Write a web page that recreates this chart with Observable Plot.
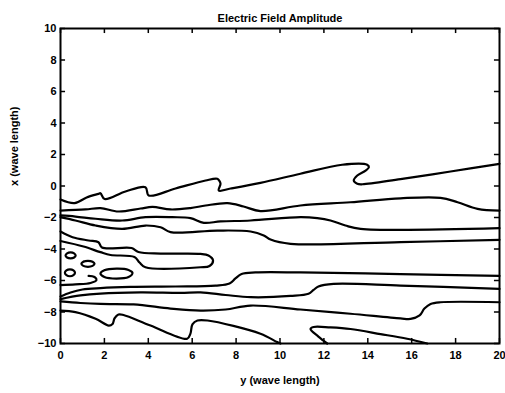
<!DOCTYPE html>
<html>
<head>
<meta charset="utf-8">
<script src="https://cdn.jsdelivr.net/npm/d3@7"></script>
<script src="https://cdn.jsdelivr.net/npm/@observablehq/plot@0.6"></script>
<style>
  html, body { margin: 0; padding: 0; background: #fff; }
</style>
</head>
<body>
<div id="chart"></div>
<script>
const title = "Electric Field Amplitude";
const xLabel = "y (wave length)";
const yLabel = "x (wave length)";
const xTicks = [0, 2, 4, 6, 8, 10, 12, 14, 16, 18, 20];
const yTicks = [-10, -8, -6, -4, -2, 0, 2, 4, 6, 8, 10];

// open contour lines, [y (wave length), x (wave length)]
const contourA = [[0,-0.86],[0.64,-1.09],[1.19,-0.73],[1.73,-0.50],[1.82,-0.46],[2.01,-0.83],[2.96,-0.35],[3.87,-0.08],[4.02,-0.60],[5.24,-0.16],[6.61,0.35],[7.14,0.46],[7.24,0.32],[7.29,0.14],[7.21,-0.29],[7.75,-0.16],[9.11,0.20],[10.93,0.78],[12.83,1.35],[13.97,1.35],[14.05,1.19],[13.90,0.98],[13.52,0.67],[13.36,0.35],[13.52,0.14],[13.76,0.11],[15.49,0.44],[17.77,0.92],[20,1.41]];
const contourB = [[0,-1.56],[1.14,-1.49],[1.82,-1.40],[2.64,-1.62],[3.65,-1.43],[4.19,-1.33],[5.01,-1.49],[5.92,-1.40],[6.61,-1.24],[7.61,-1.09],[8.34,-1.30],[9.11,-1.59],[10.93,-1.24],[13.21,-1.03],[15.49,-0.78],[17.31,-0.75],[18.09,-1.03],[19.00,-1.45],[20,-1.56]];
const contourC = [[0,-1.87],[0.68,-1.94],[1.60,-2.08],[2.81,-2.19],[3.87,-1.98],[5.09,-1.98],[5.92,-2.04],[6.53,-2.34],[7.29,-2.25],[8.66,-2.19],[10.93,-1.98],[11.70,-2.04],[12.30,-2.19],[12.98,-2.51],[13.67,-2.72],[20,-2.68]];
const contourD = [[0,-1.98],[0.68,-2.19],[1.60,-2.51],[2.81,-2.72],[3.87,-2.51],[4.56,-2.62],[5.01,-2.93],[7.14,-2.83],[8.66,-2.89],[9.26,-3.14],[9.57,-3.40],[10.48,-3.67],[15.49,-3.56],[20,-3.42]];
const contourE = [[0,-2.89],[0.55,-3.25],[1.28,-3.46],[1.73,-3.57],[1.89,-3.91],[3.24,-3.94],[3.55,-4.19],[4.56,-4.29],[6.38,-4.31],[6.74,-4.41],[6.95,-4.73],[6.79,-5.08],[6.38,-5.16],[3.87,-5.16],[3.60,-4.86],[3.37,-4.51],[2.28,-4.38],[1.82,-4.20],[1.05,-3.84],[0,-3.49]];
const contourK = [[0,-6.29],[0.68,-6.25],[1.37,-6.16],[1.64,-5.97],[1.55,-5.78],[1.28,-5.71]];
const contourF = [[0,-7.02],[0.46,-6.76],[1.00,-6.57],[1.82,-6.48],[3.19,-6.41],[5.24,-6.38],[7.06,-6.32],[7.70,-6.19],[7.97,-5.87],[8.25,-5.59],[8.88,-5.49],[10.93,-5.49],[15.49,-5.59],[20,-5.71]];
const contourG = [[0,-7.18],[0.91,-6.95],[1.82,-6.83],[3.65,-6.76],[5.47,-6.79],[6.38,-6.76],[7.52,-6.92],[8.66,-7.06],[10.48,-6.98],[11.30,-6.84],[11.53,-6.60],[11.75,-6.38],[12.44,-6.21],[15.49,-6.32],[20,-6.53]];
const contourH = [[0,-7.33],[0.91,-7.43],[1.82,-7.49],[3.33,-7.52],[5.01,-7.78],[6.38,-7.91],[7.52,-7.84],[8.66,-7.59],[10.93,-7.84],[13.21,-8.11],[15.49,-8.41],[15.95,-8.44],[16.36,-8.22],[16.58,-7.78],[16.86,-7.49],[17.31,-7.38],[20,-7.38]];
const contourJ = [[0,-7.91],[0.68,-8.01],[1.60,-8.43],[2.20,-8.86],[2.37,-8.76],[2.46,-8.41],[2.64,-8.16],[2.87,-8.19],[4.10,-8.86],[5.77,-9.70],[5.92,-9.37],[6.01,-8.79],[6.24,-8.54],[6.70,-8.54],[9.11,-9.38],[9.87,-9.91],[10.02,-10]];
const contourI = [[12.15,-10],[11.75,-9.56],[11.39,-9.08],[11.53,-8.95],[12.30,-8.98],[13.21,-9.08],[14.58,-9.40],[15.79,-9.70],[16.71,-10]];

// closed contours (islands)
const island1 = [[0.23,-4.41],[0.30,-4.28],[0.46,-4.22],[0.62,-4.28],[0.69,-4.41],[0.62,-4.54],[0.46,-4.60],[0.30,-4.54]];
const island2 = [[0.95,-4.94],[1.04,-4.81],[1.25,-4.75],[1.46,-4.81],[1.55,-4.94],[1.46,-5.07],[1.25,-5.13],[1.04,-5.07]];
const island3 = [[0.20,-5.51],[0.27,-5.36],[0.43,-5.29],[0.59,-5.36],[0.66,-5.51],[0.59,-5.66],[0.43,-5.73],[0.27,-5.66]];
const island4 = [[1.82,-5.56],[2.00,-5.35],[2.55,-5.25],[3.10,-5.33],[3.28,-5.52],[3.10,-5.78],[2.55,-5.88],[2.00,-5.78]];

const openLines = {A: contourA, B: contourB, C: contourC, D: contourD, E: contourE, K: contourK,
  F: contourF, G: contourG, H: contourH, J: contourJ, I: contourI};
const islands = {i1: island1, i2: island2, i3: island3, i4: island4};

const toRows = (obj) => Object.entries(obj).flatMap(([id, pts]) => pts.map(([x, y]) => ({id, x, y})));
const lineRows = toRows(openLines);
const islandRows = toRows(islands);

const chart = Plot.plot({
  width: 505,
  height: 393,
  marginLeft: 60,
  marginRight: 6,
  marginTop: 28,
  marginBottom: 50,
  x: {domain: [0, 20]},
  y: {domain: [-10, 10]},
  style: {fontFamily: "'Liberation Sans', Arial, sans-serif", fontSize: "11px", fontWeight: "bold", background: "#fff", color: "#000"},
  marks: [
    Plot.line(lineRows, {x: "x", y: "y", z: "id", stroke: "#000", strokeWidth: 2.2, curve: "catmull-rom", strokeLinejoin: "round"}),
    Plot.line(islandRows, {x: "x", y: "y", z: "id", stroke: "#000", strokeWidth: 2.2, curve: "catmull-rom-closed"}),
    Plot.frame({stroke: "#000", strokeWidth: 2}),
    Plot.ruleX(xTicks, {x: d => d, y1: -10, y2: -9.68, stroke: "#000", strokeWidth: 1.5}),
    Plot.ruleX(xTicks, {x: d => d, y1: 10, y2: 9.68, stroke: "#000", strokeWidth: 1.5}),
    Plot.ruleY(yTicks, {y: d => d, x1: 0, x2: 0.23, stroke: "#000", strokeWidth: 1.5}),
    Plot.ruleY(yTicks, {y: d => d, x1: 20, x2: 19.77, stroke: "#000", strokeWidth: 1.5}),
    Plot.axisX(xTicks, {anchor: "bottom", tickSize: 0, tickPadding: 8, label: null, fontWeight: "bold", fontSize: 11}),
    Plot.axisY(yTicks, {anchor: "left", tickSize: 0, tickPadding: 4, label: null, fontWeight: "bold", fontSize: 11}),
    Plot.text([title], {frameAnchor: "top", dy: -14, text: d => d, fontWeight: "bold", fontSize: 11}),
    Plot.text([xLabel], {frameAnchor: "bottom", dy: 40, text: d => d, fontWeight: "bold", fontSize: 11}),
    Plot.text([yLabel], {frameAnchor: "left", dx: -46, rotate: -90, text: d => d, fontWeight: "bold", fontSize: 11})
  ]
});
document.getElementById("chart").append(chart);
</script>
</body>
</html>
